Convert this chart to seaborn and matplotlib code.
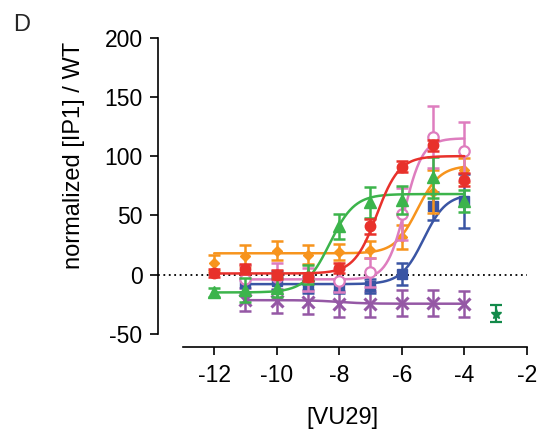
import numpy as np
import pandas as pd
import matplotlib
matplotlib.use("Agg")
import matplotlib.pyplot as plt
import seaborn as sns

sns.set_style("ticks")
plt.rcParams['font.family'] = ['Liberation Sans', 'DejaVu Sans']
plt.rcParams['axes.unicode_minus'] = False

# log [VU29] doses
dose_12 = [-12, -11, -10, -9, -8, -7, -6, -5, -4]
dose_11 = [-11, -10, -9, -8, -7, -6, -5, -4]

# mean and sem
red_y = [1.4, 4.8, 0, -2, 5.6, 40.7, 91, 109, 80]
red_err = [3, 4, 4, 3, 4, 6, 4.5, 4.5, 5.5]
orange_y = [10, 16, 20, 17, 19, 21, 32, 70, 88]
orange_err = [7, 9, 8, 8, 7, 7, 10, 18, 10]
green_y = [-15, -13, -11, 0, 41, 61, 63, 82, 62]
green_err = [4, 10, 8, 8, 10.5, 13, 12, 17, 9]
blue_y = [-7, -5, -8.4, -9.3, -9.8, 0.6, 58, 62]
blue_err = [8, 8, 7, 6, 6, 9, 12, 23]
pink_y = [-4, -2, -4, -5, 2, 51, 116, 104]
pink_err = [12, 12, 10, 10, 12, 22, 26, 25]
purple_y = [-21, -22, -23, -25, -25, -24, -24, -24.5]
purple_err = [10, 10, 10, 11, 11, 11, 11, 11]
star_x = [-3]
star_y = [-33]
star_err = [7]

# 4PL fits: bottom, top, logEC50, hill
fits = {
    'purple': (-21.5, -24.5, -8.0, 1.0),
    'blue': (-8, 68, -5.3, 1.2),
    'orange': (18, 92, -5.5, 1.2),
    'pink': (-4, 115, -5.9, 1.5),
    'green': (-15, 68, -8.3, 1.1),
    'red': (1, 100, -6.8, 1.2),
}

colors = {
    'red': '#e8312b',
    'orange': '#f7941d',
    'green': '#3cb44b',
    'blue': '#3a55a4',
    'pink': '#de7dbf',
    'purple': '#9558a5',
    'star': '#138a4a',
}


def four_pl(x, bottom, top, ec50, hill):
    return bottom + (top - bottom) / (1 + 10 ** ((ec50 - x) * hill))


fig = plt.figure(figsize=(5.37, 4.34), dpi=100)
ax = fig.add_axes([0.294, 0.2005, 0.687, 0.713])

ax.axhline(0, color='black', linestyle=(0, (1, 2)), lw=1.3, zorder=1)

series = [
    ('purple', dose_11, purple_y, purple_err, dict(marker='x', ms=8.5, mew=2.2)),
    ('blue', dose_11, blue_y, blue_err, dict(marker='s', ms=7)),
    ('orange', dose_12, orange_y, orange_err, dict(marker='D', ms=5.5)),
    ('pink', dose_11, pink_y, pink_err, dict(marker='o', ms=7.5, mfc='white', mew=1.6)),
    ('green', dose_12, green_y, green_err, dict(marker='^', ms=8)),
    ('red', dose_12, red_y, red_err, dict(marker='o', ms=7.5)),
]

for i, (name, xs, ys, errs, mk) in enumerate(series):
    c = colors[name]
    xfit = np.linspace(min(xs), max(xs), 200)
    curve = pd.DataFrame({'x': xfit, 'y': four_pl(xfit, *fits[name])})
    sns.lineplot(data=curve, x='x', y='y', color=c, lw=1.8, ax=ax, zorder=2 + i)
    kw = dict(mfc=c, mec=c)
    kw.update(mk)
    ax.errorbar(xs, ys, yerr=errs, fmt='none', ecolor=c, elinewidth=1.8,
                capsize=4, capthick=1.8, zorder=2 + i)
    ax.plot(xs, ys, linestyle='none', zorder=2.5 + i, **kw)

ax.errorbar(star_x, star_y, yerr=star_err, fmt='none', ecolor=colors['star'],
            elinewidth=1.6, capsize=4, capthick=1.6, zorder=10)
ax.plot(star_x, star_y, linestyle='none', marker='*', ms=7, color=colors['star'], zorder=10)

ax.set_xlim(-13.8, -2)
ax.set_ylim(-61, 200)
ax.spines['left'].set_bounds(-50, 200)
ax.spines['bottom'].set_bounds(-13, -2)
sns.despine(ax=ax)
for sp in ('left', 'bottom'):
    ax.spines[sp].set_linewidth(1.2)
    ax.spines[sp].set_color('black')

ax.set_xticks([-12, -10, -8, -6, -4, -2])
ax.set_yticks([-50, 0, 50, 100, 150, 200])
ax.tick_params(axis='both', length=6, width=1.2, labelsize=16.5, color='black',
               labelcolor='black')
ax.tick_params(axis='y', pad=5)
ax.tick_params(axis='x', pad=6)

ax.set_xlabel('[VU29]', fontsize=17, color='black')
ax.set_ylabel('normalized [IP1] / WT', fontsize=17, color='black')
ax.xaxis.set_label_coords(0.501, -0.194)
ax.yaxis.set_label_coords(-0.198, 0.62)

fig.text(0.024, 0.968, 'D', fontsize=17, va='top', ha='left')

fig.savefig('out.png', dpi=100)
